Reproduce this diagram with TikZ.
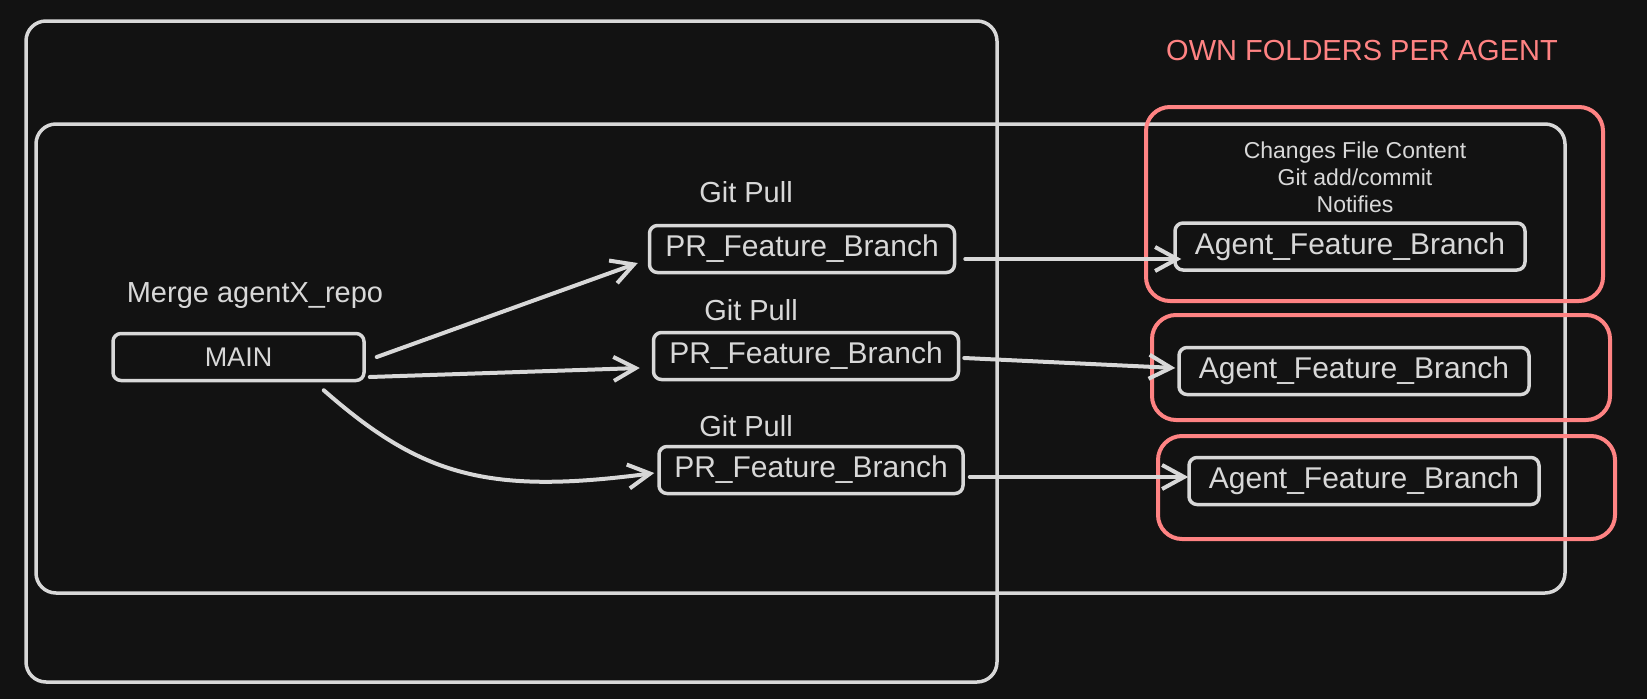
\documentclass[tikz,border=0pt]{standalone}
\usepackage{fontspec}
\setmainfont{Liberation Sans}
\usetikzlibrary{arrows.meta,calc}
\definecolor{bg}{HTML}{121212}
\definecolor{ink}{HTML}{D8D8D8}
\definecolor{salmon}{HTML}{FF8383}
\tikzset{
  every picture/.style={
    line join=round,
    line cap=round,
    >={Straight Barb[length=22pt 0,width=24pt 0]}, % open excalidraw-like tip
  },
  frame/.style={draw=ink, line width=3.5pt, rounded corners=20pt, inner sep=0pt},
  folder/.style={draw=salmon, line width=4pt, rounded corners=24pt, inner sep=0pt},
  branch/.style={draw=ink, line width=3.5pt, rounded corners=8pt, inner sep=0pt,
    minimum height=47pt, text=ink, font=\fontsize{30}{36}\selectfont},
  note/.style={text=ink, anchor=base, font=\fontsize{29}{34}\selectfont},
  flow/.style={draw=ink, line width=4pt, ->},
}
\begin{document}
\begin{tikzpicture}[x=1pt,y=-1pt]
\fill[bg](0,0)rectangle(1647,699);
% containers
\node[frame,minimum width=971pt,minimum height=661pt](repo)at(511.5,351.5){};
\node[frame,minimum width=1529pt,minimum height=469pt](work)at(800.5,358.5){};
\node[folder,minimum width=457pt,minimum height=194pt](f1)at(1374.5,204){};
\node[folder,minimum width=458pt,minimum height=105pt](f2)at(1381,367.5){};
\node[folder,minimum width=457pt,minimum height=103pt](f3)at(1386.5,487.5){};
\node[note,text=salmon](title)at(1362,60){OWN FOLDERS PER AGENT};
% branches
\node[branch,minimum width=251pt,font=\fontsize{27}{32}\selectfont](main)at(238.5,357){MAIN};
\node[note](merge)at(255,302){Merge agentX\_repo};
\node[branch,minimum width=305pt](pr1)at(802,249){PR\_Feature\_Branch};
\node[branch,minimum width=305pt](pr2)at(806,356){PR\_Feature\_Branch};
\node[branch,minimum width=304pt](pr3)at(811,470){PR\_Feature\_Branch};
\node[note](pull1)at(746,202){Git Pull};
\node[note](pull2)at(751,320){Git Pull};
\node[note](pull3)at(746,436){Git Pull};
\node[branch,minimum width=350pt](ag1)at(1350,246.5){Agent\_Feature\_Branch};
\node[branch,minimum width=350pt](ag2)at(1354,371){Agent\_Feature\_Branch};
\node[branch,minimum width=350pt](ag3)at(1364,481){Agent\_Feature\_Branch};
\node[note,align=center,font=\fontsize{23}{27}\selectfont](todo)at(1355,212)
  {Changes File Content\\Git add/commit\\Notifies};
% arrows
\draw[flow]($(main.east)+(11,0)$)--($(pr1.west)+(-10,14)$);
\draw[flow]($(main.east)+(4,20)$)--($(pr2.west)+(-12,12)$);
\draw[flow]($(main.south east)+(-42,8)$)..controls +(98,86) and +(-166,22)..($(pr3.west)+(-3,3)$);
\draw[flow]($(pr1.east)+(9,10)$)--($(ag1.west)+(8,12.5)$);
\draw[flow]($(pr2.east)+(4,2)$)--($(ag2.west)+(-2,-3)$);
\draw[flow]($(pr3.east)+(5,7)$)--($(ag3.west)+(1,-4)$);
\end{tikzpicture}
\end{document}
